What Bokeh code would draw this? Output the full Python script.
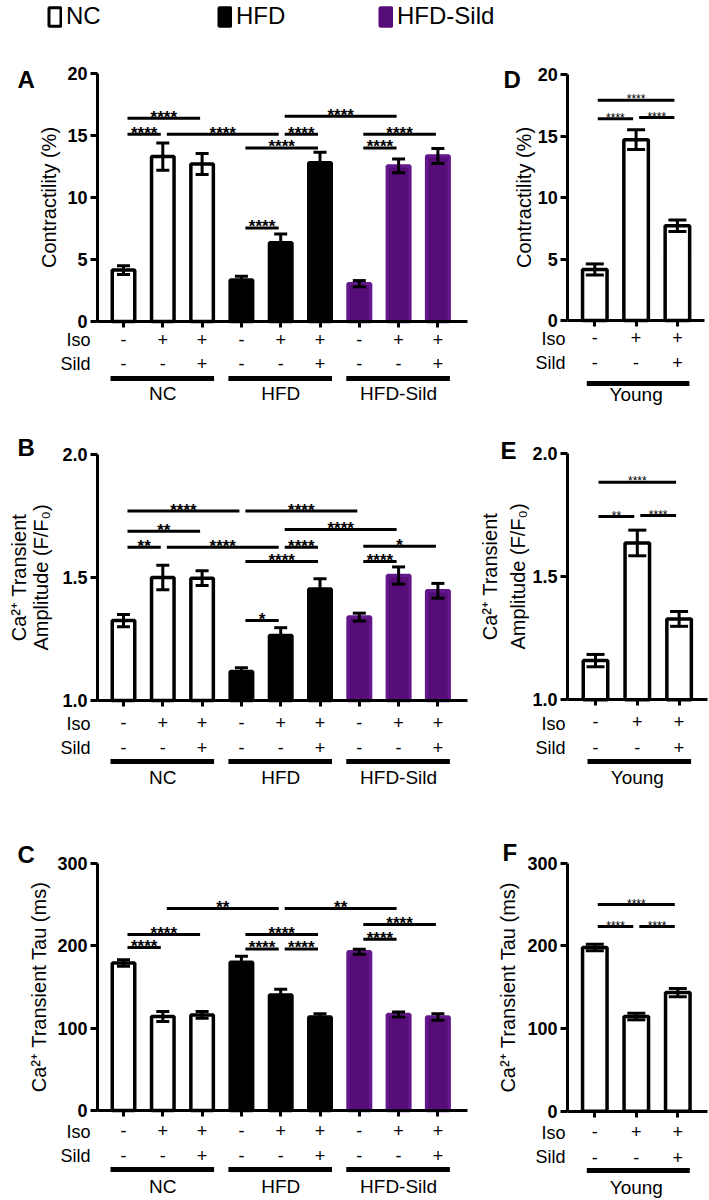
import math
from bokeh.plotting import figure
from bokeh.models import (Range1d, FixedTicker, ColumnDataSource, Whisker, TeeHead,
                          Legend, LegendItem, PrintfTickFormatter, BasicTickFormatter)
from bokeh.layouts import column, row
from bokeh.embed import file_html
from bokeh.resources import INLINE
from bokeh.core.properties import value

# ------------------------------------------------------------------ data
group_names = ["NC", "HFD", "HFD-Sild"]
young_names = ["Young"]
iso_signs = ["-", "+", "+"]
sild_signs = ["-", "-", "+"]

contractility = [4.15, 13.3, 12.7, 3.35, 6.35, 12.8, 3.05, 12.55, 13.35]
contractility_err = [0.35, 1.1, 0.85, 0.3, 0.7, 0.85, 0.25, 0.55, 0.6]
amplitude = [1.325, 1.500, 1.497, 1.118, 1.264, 1.453, 1.339, 1.508, 1.446]
amplitude_err = [0.025, 0.05, 0.03, 0.015, 0.032, 0.042, 0.016, 0.035, 0.03]
tau = [179, 114, 116, 180, 140, 113.5, 192.5, 116.5, 113.5]
tau_err = [4, 6, 4, 7, 7, 4, 3, 3, 4]

young_contractility = [4.15, 14.7, 7.7]
young_contractility_err = [0.45, 0.8, 0.47]
young_amplitude = [1.159, 1.636, 1.328]
young_amplitude_err = [0.025, 0.052, 0.03]
young_tau = [198, 114.5, 143.5]
young_tau_err = [4, 4, 5]

# significance brackets: (bar i, bar j, bracket height, label)
sig_contractility = [(0, 2, 16.4, "****"), (0, 1, 15.1, "****"), (1, 4, 15.1, "****"),
                     (4, 5, 15.1, "****"), (3, 5, 14.0, "****"), (4, 7, 16.55, "****"),
                     (6, 8, 15.1, "****"), (6, 7, 14.0, "****"), (3, 4, 7.55, "****")]
sig_amplitude = [(0, 3, 1.77, "****"), (3, 6, 1.77, "****"), (0, 2, 1.688, "**"),
                 (4, 7, 1.695, "****"), (0, 1, 1.623, "**"), (1, 4, 1.623, "****"),
                 (4, 5, 1.623, "****"), (3, 5, 1.565, "****"), (6, 8, 1.627, "*"),
                 (6, 7, 1.565, "****"), (3, 4, 1.325, "*")]
sig_tau = [(1, 4, 245, "**"), (4, 7, 245, "**"), (0, 2, 213.4, "****"),
           (0, 1, 197.6, "****"), (3, 5, 213.4, "****"), (3, 4, 196, "****"),
           (4, 5, 196, "****"), (6, 8, 225.5, "****"), (6, 7, 207.7, "****")]
sig_young_contractility = [(0, 2, 17.9, "****"), (0, 1, 16.4, "****"), (1, 2, 16.5, "****")]
sig_young_amplitude = [(0, 2, 1.882, "****"), (0, 1, 1.743, "**"), (1, 2, 1.747, "****")]
sig_young_tau = [(0, 2, 250, "****"), (0, 1, 223.4, "****"), (1, 2, 223.4, "****")]

ticks_contractility = [0, 5, 10, 15, 20]
ticks_amplitude = [1.0, 1.5, 2.0]
ticks_tau = [0, 100, 200, 300]

# ------------------------------------------------------------------ styles
FONT = "Liberation Sans"
PURPLE = "#560d78"
PURPLE_EDGE = "#62188a"
GROUP_FILL = ["white", "black", PURPLE]
GROUP_LINE = ["black", "black", PURPLE_EDGE]

# panel geometry (page pixels)
BIG = dict(PPX=39.3, X0=123, axis_x=97, axis_end=467, lab_r=90, bar_px=22.5, tee=13,
           gpad_l=13, gpad_r=12, sig_a=4, sig_b=2, star_size="17px", star_bold=True,
           star_off=-1, letter_x=17)
SMALL = dict(bar_px=24.5, tee=18, gpad_l=8, gpad_r=12, sig_a=3, sig_b=3,
             star_size="12px", star_bold=False, star_off=-1)

GA = dict(BIG, L=0, T=45, W=478, H=367, Y0=321, PPY=12.4, base=0,
          iso_y=339.5, sild_y=363, grp_y=378, glabel_y=393, letter_y=79, ylab=[48], standoff=5)
GB = dict(BIG, L=0, T=412, W=478, H=383, Y0=700, PPY=246.0, base=1.0,
          iso_y=723, sild_y=747, grp_y=761, glabel_y=777, letter_y=447, ylab=[18, 40], standoff=9)
GC = dict(BIG, L=0, T=795, W=478, H=405, Y0=1110, PPY=0.8243, base=0,
          iso_y=1131, sild_y=1155, grp_y=1169, glabel_y=1186, letter_y=854, ylab=[38], standoff=7)
GD = dict(SMALL, L=478, T=45, W=231, H=367, X0=594.3, PPX=41.3, Y0=320, PPY=12.3, base=0,
          axis_x=567.3, axis_end=704, lab_r=565, iso_y=338, sild_y=362, grp_y=383, glabel_y=394,
          letter_x=503, letter_y=79, ylab=[523], standoff=4)
GE = dict(SMALL, L=478, T=412, W=231, H=383, X0=595, PPX=41.8, Y0=699.3, PPY=246.6, base=1.0,
          axis_x=567, axis_end=707, lab_r=565, iso_y=723, sild_y=747, grp_y=761, glabel_y=777,
          letter_x=500, letter_y=450, ylab=[489, 517], standoff=9)
GF = dict(SMALL, L=478, T=795, W=231, H=405, X0=594.3, PPX=41.5, Y0=1110.7, PPY=0.8267, base=0,
          axis_x=567, axis_end=707, lab_r=565, iso_y=1132.7, sild_y=1156.7, grp_y=1170,
          glabel_y=1187, letter_x=502, letter_y=852, ylab=[507], standoff=8)


def txt(p, x, y, text, size, align="center", baseline="middle", bold=False, angle=0.0):
    p.text(x=x, y=y, text=text, text_align=align, text_baseline=baseline,
           text_font=value(FONT), text_font_size=size, text_color="black",
           text_font_style="bold" if bold else "normal", angle=angle)


def make_panel(g, values, errs, ticks, fmt, glabels, sig, letter, ylabels):
    n = len(values)
    ng = len(glabels)
    per = n // ng
    X0, PPX, Y0, PPY, base = g["X0"], g["PPX"], g["Y0"], g["PPY"], g["base"]

    def dx(rx):
        return (rx - X0) / PPX

    def dy(ry):
        return base + (Y0 - ry) / PPY

    L, T, W, H = g["L"], g["T"], g["W"], g["H"]
    p = figure(width=W, height=H, x_range=Range1d(dx(L), dx(L + W)),
               y_range=Range1d(dy(T + H), dy(T)), output_backend="svg",
               toolbar_location=None, min_border=0)
    p.outline_line_color = None
    p.xgrid.visible = False
    p.ygrid.visible = False

    xs = list(range(n))
    fills, lines = [], []
    for k in range(ng):
        fills += [GROUP_FILL[k]] * per
        lines += [GROUP_LINE[k]] * per
    src = ColumnDataSource(dict(x=xs, top=values,
                                lo=[v - e for v, e in zip(values, errs)],
                                hi=[v + e for v, e in zip(values, errs)],
                                fill=fills, line=lines))
    p.vbar(x="x", top="top", bottom=base, width=g["bar_px"] / PPX, fill_color="fill",
           line_color="line", line_width=3.5, source=src)
    p.add_layout(Whisker(source=src, base="x", upper="hi", lower="lo", line_width=3,
                         line_color="black", level="annotation",
                         upper_head=TeeHead(size=g["tee"], line_width=3, line_color="black"),
                         lower_head=TeeHead(size=g["tee"], line_width=3, line_color="black")))

    # axes
    iso_row = iso_signs * ng
    sild_row = sild_signs * ng
    xa = p.xaxis[0]
    xa.fixed_location = base
    xa.bounds = (dx(g["axis_x"]), dx(g["axis_end"]))
    xa.ticker = FixedTicker(ticks=xs)
    xa.major_label_overrides = {i: iso_row[i] for i in xs}
    xa.major_tick_in = 0
    xa.major_tick_out = 6
    xa.minor_tick_line_color = None
    xa.axis_line_width = 3
    xa.major_tick_line_width = 3
    xa.major_label_text_font = FONT
    xa.major_label_text_font_size = "18px"
    xa.major_label_text_color = "black"
    xa.major_label_standoff = g["standoff"]

    ya = p.yaxis[0]
    ya.fixed_location = dx(g["axis_x"])
    ya.bounds = (base, ticks[-1])
    ya.ticker = FixedTicker(ticks=ticks)
    ya.formatter = fmt
    ya.major_tick_in = 0
    ya.major_tick_out = 7
    ya.minor_tick_line_color = None
    ya.axis_line_width = 3
    ya.major_tick_line_width = 3
    ya.major_label_text_font = FONT
    ya.major_label_text_font_size = "18px"
    ya.major_label_text_font_style = "bold"
    ya.major_label_text_color = "black"
    ya.major_label_standoff = 3

    # significance brackets
    a, b = g["sig_a"] / PPX, g["sig_b"] / PPX
    x0 = [s[0] + a for s in sig]
    x1 = [s[1] - b for s in sig]
    yy = [s[2] for s in sig]
    p.segment(x0=x0, x1=x1, y0=yy, y1=yy, line_width=3, line_color="black")
    txt(p, [(u + v) / 2 for u, v in zip(x0, x1)], [y - g["star_off"] / PPY for y in yy],
        [s[3] for s in sig], g["star_size"], baseline="alphabetic", bold=g["star_bold"])

    # treatment rows
    txt(p, xs, [dy(g["sild_y"])] * n, sild_row, "18px")
    txt(p, [dx(g["lab_r"])] * 2, [dy(g["iso_y"]), dy(g["sild_y"])], ["Iso", "Sild"], "18px",
        align="right")

    # group bars and labels
    gx0 = [k * per - g["gpad_l"] / PPX for k in range(ng)]
    gx1 = [(k + 1) * per - 1 + g["gpad_r"] / PPX for k in range(ng)]
    gy = [dy(g["grp_y"])] * ng
    p.segment(x0=gx0, x1=gx1, y0=gy, y1=gy, line_width=5, line_color="black")
    txt(p, [(k * per + (k + 1) * per - 1) / 2 for k in range(ng)], [dy(g["glabel_y"])] * ng,
        glabels, "19px")

    # panel letter and y label
    txt(p, [dx(g["letter_x"])], [dy(g["letter_y"])], [letter], "24px", align="left", bold=True)
    ymid = (base + ticks[-1]) / 2
    txt(p, [dx(x) for x in g["ylab"]], [ymid] * len(ylabels), ylabels, "20px",
        angle=math.pi / 2)
    return p


int_fmt = BasicTickFormatter()
dec_fmt = PrintfTickFormatter(format="%.1f")

pA = make_panel(GA, contractility, contractility_err, ticks_contractility, int_fmt,
                group_names, sig_contractility, "A", ["Contractility (%)"])
pB = make_panel(GB, amplitude, amplitude_err, ticks_amplitude, dec_fmt,
                group_names, sig_amplitude, "B", ["Ca²⁺ Transient", "Amplitude (F/F₀)"])
pC = make_panel(GC, tau, tau_err, ticks_tau, int_fmt,
                group_names, sig_tau, "C", ["Ca²⁺ Transient Tau (ms)"])
pD = make_panel(GD, young_contractility, young_contractility_err, ticks_contractility, int_fmt,
                young_names, sig_young_contractility, "D", ["Contractility (%)"])
pE = make_panel(GE, young_amplitude, young_amplitude_err, ticks_amplitude, dec_fmt,
                young_names, sig_young_amplitude, "E", ["Ca²⁺ Transient", "Amplitude (F/F₀)"])
pF = make_panel(GF, young_tau, young_tau_err, ticks_tau, int_fmt,
                young_names, sig_young_tau, "F", ["Ca²⁺ Transient Tau (ms)"])

# ------------------------------------------------------------------ legend strip
leg = figure(width=709, height=45, x_range=Range1d(0, 1), y_range=Range1d(0, 1),
             x_axis_type=None, y_axis_type=None, output_backend="svg",
             toolbar_location=None, min_border=0)
leg.outline_line_color = None
leg.xgrid.visible = False
leg.ygrid.visible = False
legend_x = [47, 217, 378]
for k, name in enumerate(group_names):
    r = leg.vbar(x=[0.5], top=[1], width=0.1, fill_color=GROUP_FILL[k],
                 line_color=GROUP_LINE[k] if k < 2 else GROUP_FILL[k], line_width=3,
                 visible=False)
    lg = Legend(items=[LegendItem(label=value(name), renderers=[r])],
                location=(legend_x[k], 15), orientation="horizontal",
                glyph_width=15, glyph_height=23, label_height=23, label_width=20,
                label_text_font=FONT, label_text_font_size="24px",
                label_text_color="black", label_standoff=4, padding=0, margin=0, spacing=0,
                inactive_fill_alpha=0, border_line_color=None, background_fill_alpha=0)
    leg.add_layout(lg)

layout = column(leg, row(pA, pD), row(pB, pE), row(pC, pF))
open("out.html", "w").write(file_html(layout, INLINE))
